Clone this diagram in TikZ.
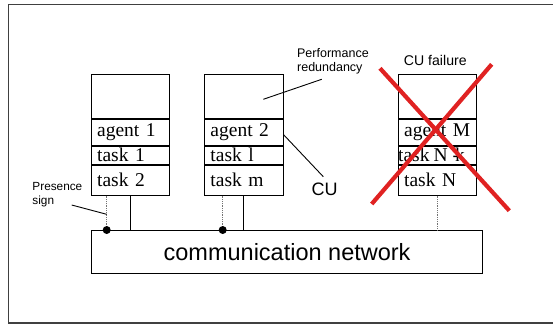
\documentclass[tikz,border=0pt]{standalone}
\usepackage{fontspec}
\setmainfont{Liberation Serif}
\setsansfont{Liberation Sans}
\usetikzlibrary{positioning}
\definecolor{failred}{RGB}{224,34,34}

\begin{document}
\begin{tikzpicture}[x=1pt,y=-1pt,line width=0.9pt,
  cell/.style={draw,anchor=north west,text width=66.6pt,inner xsep=6pt,inner ysep=0pt,
    align=left,font=\fontsize{19.5}{20}\selectfont},
  presence/.style={densely dotted,black!55,line width=0.8pt},
  cross/.style={failred,line width=4.2pt}]
  \useasboundingbox (0,0) rectangle (553,325);
  \draw[line width=1.6pt,black!75] (8.5,4.5) rectangle (560,323);
  % control units
  \node[cell,minimum height=44pt] (u1) at (90.7,74) {};
  \node[cell,minimum height=25.7pt] (a1) at (u1.south west) {agent 1};
  \node[cell,minimum height=18.6pt] (t11) at (a1.south west) {task 1};
  \node[cell,minimum height=29.7pt] (t12) at (t11.south west) {task 2};
  \node[cell,minimum height=44pt] (u2) at (204,74) {};
  \node[cell,minimum height=25.7pt] (a2) at (u2.south west) {agent 2};
  \node[cell,minimum height=18.6pt] (t21) at (a2.south west) {task l};
  \node[cell,minimum height=29.7pt] (t22) at (t21.south west) {task m};
  \node[cell,minimum height=44pt] (u3) at (397.7,74) {};
  \node[cell,minimum height=25.7pt] (a3) at (u3.south west) {agent M};
  \node[cell,minimum height=18.6pt] (t31) at (a3.south west)
    {\hspace*{-6pt}\mbox{task\kern4pt N\kern5pt-\kern-4pt k}};
  \node[cell,minimum height=29.7pt] (t32) at (t31.south west) {task N};
  \node[draw,anchor=north west,inner sep=0pt,minimum width=390.7pt,minimum height=42.7pt,
    font=\sffamily\fontsize{23.5}{28}\selectfont] (net) at (91.3,230) {communication network};
  % links to the network
  \coordinate (p1) at ([xshift=16pt]t12.south west);
  \coordinate (p2) at ([xshift=18.7pt]t22.south west);
  \draw[presence] (p1) -- (p1 |- net.north);
  \draw[presence] (p2) -- (p2 |- net.north);
  \draw[presence] (t32.south) -- (t32.south |- net.north);
  \draw (t12.south) -- (t12.south |- net.north);
  \draw (t22.south) -- (t22.south |- net.north);
  \fill (p1 |- net.north) circle (4pt);
  \fill (p2 |- net.north) circle (4pt);
  % labels
  \node[anchor=west,align=left,inner sep=0pt,font=\sffamily\fontsize{11.8}{14.6}\selectfont]
    (pres) at (32,194.6) {Presence\\sign};
  \node[anchor=west,align=left,inner sep=0pt,font=\sffamily\fontsize{12.5}{14.2}\selectfont]
    (perf) at (296.7,61.3) {Performance\\redundancy};
  \node[inner sep=0pt,font=\sffamily\fontsize{18}{20}\selectfont] (cu) at (324.7,189) {CU};
  \node[inner sep=0pt,font=\sffamily\fontsize{14.1}{16}\selectfont] (fail) at (435.3,60.7) {CU failure};
  \coordinate (s1) at (71.7,205);
  \coordinate (s2) at (321.7,79.3);
  \coordinate (s3) at (323.3,176.7);
  \draw (s1) -- ([yshift=-18.7pt]p1);
  \draw (s2) -- (263.3,99.3);
  \draw ([yshift=-2.4pt]a2.east) -- (s3);
  % failed unit
  \draw[cross] (380,68.3) -- (509.3,210.7);
  \draw[cross] (491.7,64.3) -- (371.7,204);
\end{tikzpicture}
\end{document}
